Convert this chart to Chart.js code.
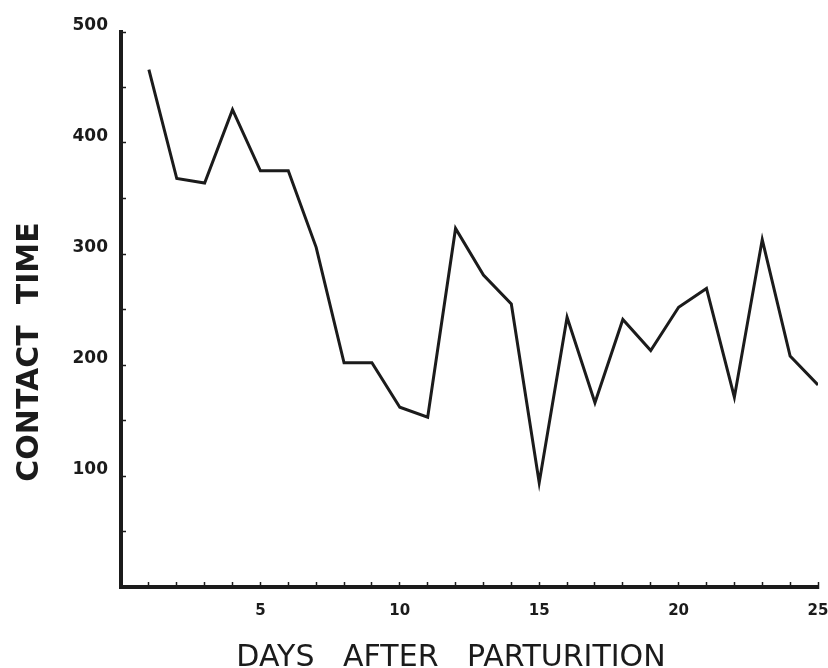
<!DOCTYPE html>
<html>
<head>
<meta charset="utf-8">
<title>Contact time after parturition</title>
<script src="https://cdn.jsdelivr.net/npm/chart.js@4.4.1/dist/chart.umd.min.js"></script>
<style>
  html, body { margin: 0; padding: 0; background: #fff; }
  #wrap { width: 828px; height: 668px; }
</style>
</head>
<body>
<div id="wrap"><canvas id="contactChart"></canvas></div>
<script>
// Data
const days = [1, 2, 3, 4, 5, 6, 7, 8, 9, 10, 11, 12, 13, 14, 15, 16, 17, 18, 19, 20, 21, 22, 23, 24, 25];
const contactTime = [466, 368, 364, 430, 375, 375, 306, 202, 202, 162, 153, 323, 281, 255, 94, 243, 166, 241, 213, 252, 269, 171, 313, 208, 182];

// Tick labels shown on each axis
const xTickLabels = [5, 10, 15, 20, 25];
const yTickLabels = [100, 200, 300, 400, 500];

const xTitle = "DAYS   AFTER   PARTURITION";
const yTitle = "CONTACT  TIME";

const ink = "#1b1b1b";
const fontFamily = "'DejaVu Sans', 'Liberation Sans', sans-serif";

// Axis titles drawn by hand so they can sit where the original put them
const axisTitles = {
  id: "axisTitles",
  afterDraw(chart) {
    const ctx = chart.ctx;
    ctx.save();
    ctx.fillStyle = ink;
    ctx.textAlign = "center";
    ctx.textBaseline = "alphabetic";

    // vertical title, reads bottom to top
    ctx.font = "bold 30px " + fontFamily;
    ctx.translate(38, 352);
    ctx.rotate(-Math.PI / 2);
    ctx.fillText(yTitle, 0, 0);
    ctx.restore();

    ctx.save();
    ctx.fillStyle = ink;
    ctx.textAlign = "center";
    ctx.textBaseline = "alphabetic";
    ctx.font = "30px " + fontFamily;
    ctx.fillText(xTitle, 451, 666);
    ctx.restore();
  },
};

const points = days.map((d, i) => ({ x: d, y: contactTime[i] }));

const ctx = document.getElementById("contactChart").getContext("2d");
const contactChart = new Chart(ctx, {
  type: "line",
  data: {
    datasets: [
      {
        label: "Contact time",
        data: points,
        borderColor: ink,
        borderWidth: 3,
        pointRadius: 0,
        tension: 0,
        fill: false,
      },
    ],
  },
  options: {
    responsive: true,
    maintainAspectRatio: false,
    animation: false,
    layout: {
      padding: { top: 32, right: 10, bottom: 0, left: 0 },
    },
    plugins: {
      legend: { display: false },
      tooltip: { enabled: false },
    },
    scales: {
      x: {
        type: "linear",
        min: 0,
        max: 25,
        afterFit: (scale) => {
          scale.height = 81;
          // labels may spill past the ends, the layout padding covers it
          scale.paddingLeft = 0;
          scale.paddingRight = 0;
        },
        ticks: {
          stepSize: 1,
          autoSkip: false,
          maxRotation: 0,
          padding: 20,
          color: ink,
          font: { family: fontFamily, size: 15, weight: "bold" },
          callback: (value) => (xTickLabels.includes(value) ? String(value) : ""),
        },
        grid: {
          drawOnChartArea: false,
          drawTicks: true,
          tickLength: -5,
          tickColor: ink,
          tickWidth: 1.5,
        },
        border: { display: true, color: ink, width: 4 },
      },
      y: {
        min: 0,
        max: 500,
        afterFit: (scale) => {
          scale.width = 121;
          scale.paddingTop = 0;
          scale.paddingBottom = 0;
        },
        ticks: {
          stepSize: 50,
          padding: 18,
          labelOffset: -6,
          color: ink,
          font: { family: fontFamily, size: 17, weight: "bold" },
          callback: (value) => (yTickLabels.includes(value) ? String(value) : ""),
        },
        grid: {
          drawOnChartArea: false,
          drawTicks: true,
          tickLength: -5,
          tickColor: ink,
          tickWidth: 1.5,
        },
        border: { display: true, color: ink, width: 4 },
      },
    },
  },
  plugins: [axisTitles],
});
</script>
</body>
</html>
